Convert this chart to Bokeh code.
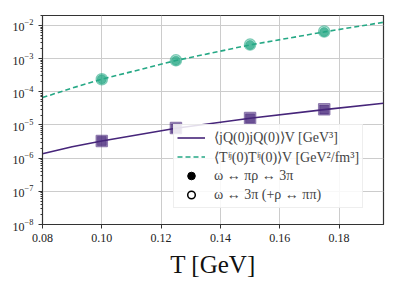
from bokeh.plotting import figure
from bokeh.models import Legend, LegendItem, Range1d, FixedTicker, PrintfTickFormatter
from bokeh.embed import file_html
from bokeh.resources import INLINE

# curves
T_line = [0.08, 0.09, 0.10, 0.125, 0.15, 0.175, 0.195]
jq_line = [1.35e-6, 2.2e-6, 3.3e-6, 8.0e-6, 1.6e-5, 2.9e-5, 4.5e-5]
tij_line = [6.7e-5, 1.3e-4, 2.4e-4, 8.8e-4, 2.6e-3, 6.4e-3, 1.25e-2]

# points
T_pts = [0.10, 0.125, 0.15, 0.175]
jq_filled = [3.3e-6, 8.0e-6, 1.6e-5, 2.95e-5]
jq_open = [3.3e-6, 8.1e-6, 1.62e-5, 3.0e-5]
tij_filled = [2.4e-4, 8.7e-4, 2.6e-3, 6.4e-3]
tij_open = [2.4e-4, 8.9e-4, 2.65e-3, 6.6e-3]

x_ticks = [0.08, 0.10, 0.12, 0.14, 0.16, 0.18]
y_ticks = [1e-8, 1e-7, 1e-6, 1e-5, 1e-4, 1e-3, 1e-2]

labels = [
    "\u27e8jQ(0)jQ(0)\u27e9V [GeV\u00b3]",
    "\u27e8T\u2071\u02b2(0)T\u2071\u02b2(0)\u27e9V [GeV\u00b2/fm\u00b3]",
    "\u03c9 \u2194 \u03c0\u03c1 \u2194 3\u03c0",
    "\u03c9 \u2194 3\u03c0 (+\u03c1 \u2194 \u03c0\u03c0)",
]

PURPLE = "#46257a"
GREEN = "#25a885"
SERIF = "Liberation Serif"

p = figure(width=399, height=287, y_axis_type="log", output_backend="svg",
           toolbar_location=None, x_range=Range1d(0.08, 0.195),
           y_range=Range1d(1e-8, 2e-2),
           min_border_left=42, min_border_right=16, min_border_top=15, min_border_bottom=63)

p.outline_line_color = "#333333"
p.outline_line_width = 1.2
p.background_fill_color = "white"
p.grid.grid_line_color = "#cccccc"
p.grid.grid_line_width = 1
p.xgrid.ticker = FixedTicker(ticks=x_ticks)
p.ygrid.ticker = FixedTicker(ticks=y_ticks)

p.xaxis.ticker = FixedTicker(ticks=x_ticks)
p.xaxis.formatter = PrintfTickFormatter(format="%.2f")
p.yaxis.ticker.num_minor_ticks = 10
p.yaxis.ticker.desired_num_ticks = 8
for ax in (p.xaxis[0], p.yaxis[0]):
    ax.major_label_text_font = SERIF
    ax.major_label_text_font_size = "12px"
    ax.major_label_text_color = "#222222"
    ax.axis_line_color = "#333333"
    ax.major_tick_line_color = "#333333"
    ax.minor_tick_line_color = "#333333"
    ax.major_tick_in = 0
    ax.major_tick_out = 4
    ax.minor_tick_in = 0
    ax.minor_tick_out = 2
p.xaxis.minor_tick_line_color = None
p.xaxis.axis_label = "T [GeV]"
p.xaxis.axis_label_text_font = SERIF
p.xaxis.axis_label_text_font_style = "normal"
p.xaxis.axis_label_text_font_size = "25px"
p.xaxis.axis_label_standoff = 6
p.xaxis.axis_label_text_color = "#111111"

# legend-only markers drawn first (size 0, hidden under the data markers)
r_f = p.scatter(T_pts, tij_filled, marker="circle", size=0, fill_color="black", line_color="black")
r_o = p.scatter(T_pts, tij_open, marker="circle", size=0, fill_color="white",
                line_color="black", line_width=1.5)

r_jq = p.line(T_line, jq_line, line_color=PURPLE, line_width=1.6)
r_tij = p.line(T_line, tij_line, line_color=GREEN, line_width=1.6, line_dash="5 3")

p.scatter(T_pts, jq_filled, marker="square", size=9, fill_color=PURPLE, fill_alpha=0.8,
          line_color=PURPLE, line_alpha=0.6)
p.scatter(T_pts, jq_open, marker="square", size=11, fill_color=None,
          line_color=PURPLE, line_alpha=0.6, line_width=1.5)
p.scatter(T_pts, tij_filled, marker="circle", size=9, fill_color=GREEN, fill_alpha=0.8,
          line_color=GREEN, line_alpha=0.6)
p.scatter(T_pts, tij_open, marker="circle", size=11, fill_color=None,
          line_color=GREEN, line_alpha=0.6, line_width=1.5)

legend = Legend(items=[
    LegendItem(label=labels[0], renderers=[r_jq]),
    LegendItem(label=labels[1], renderers=[r_tij]),
    LegendItem(label=labels[2], renderers=[r_f]),
    LegendItem(label=labels[3], renderers=[r_o]),
], location=(131, 16))
legend.label_text_font = SERIF
legend.label_text_font_size = "14px"
legend.label_height = 15
legend.glyph_height = 19
legend.glyph_width = 28
legend.spacing = 0
legend.padding = 3
legend.margin = 0
legend.label_standoff = 9
legend.border_line_color = "#dddddd"
legend.background_fill_alpha = 0.85
p.add_layout(legend, "center")

open("out.html", "w").write(file_html(p, INLINE))
